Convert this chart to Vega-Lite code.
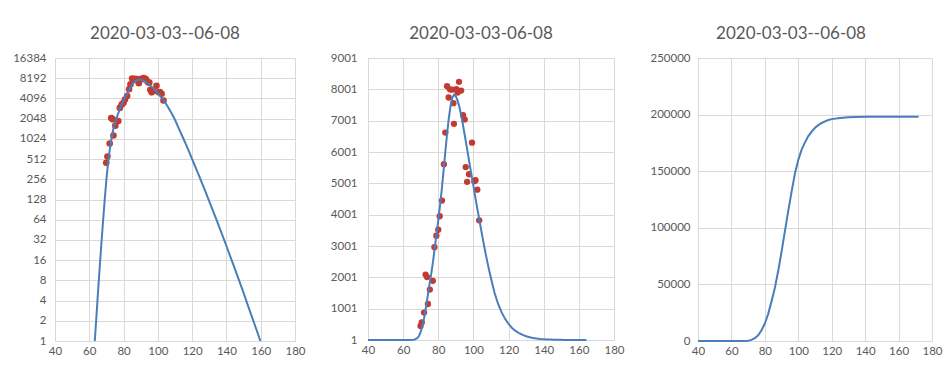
{
  "$schema": "https://vega.github.io/schema/vega-lite/v6.json",
  "padding": {"left": 12, "top": 25, "right": 0, "bottom": 0},
  "spacing": 24,
  "background": "white",
  "config": {
    "font": "Lato",
    "view": {"stroke": null},
    "axis": {"gridColor": "#d9d9d9", "domainColor": "#d9d9d9", "ticks": false, "tickSize": 0, "labelColor": "#595959", "labelFontSize": 11.5, "labelFont": "Lato", "labelOverlap": false, "labelFlush": false, "title": null},
    "title": {"fontSize": 17, "fontWeight": "normal", "color": "#595959", "font": "Lato"}
  },
  "datasets": {
    "pts": [{"x":69.9,"v":450},{"x":70.6,"v":560},{"x":71.9,"v":875},{"x":72.8,"v":2090},{"x":73.6,"v":2010},{"x":74.1,"v":1150},{"x":75.2,"v":1610},{"x":76.9,"v":1890},{"x":77.8,"v":2960},{"x":78.9,"v":3330},{"x":80.0,"v":3520},{"x":80.8,"v":3950},{"x":82.1,"v":4450},{"x":83.2,"v":5610},{"x":84.0,"v":6620},{"x":85.0,"v":8100},{"x":85.9,"v":7740},{"x":86.6,"v":8000},{"x":87.8,"v":7990},{"x":88.6,"v":7560},{"x":88.9,"v":6900},{"x":90.3,"v":8010},{"x":91.0,"v":7900},{"x":91.8,"v":8240},{"x":93.0,"v":7960},{"x":94.1,"v":7180},{"x":95.0,"v":7040},{"x":95.6,"v":5520},{"x":96.4,"v":5050},{"x":97.5,"v":5290},{"x":99.2,"v":6300},{"x":100.5,"v":5070},{"x":101.2,"v":5100},{"x":102.2,"v":4800},{"x":103.3,"v":3820}],
    "daily": [{"x":40,"v":1},{"x":50,"v":1},{"x":60,"v":1},{"x":63.2,"v":1},{"x":64,"v":2},{"x":65,"v":4.9},{"x":66,"v":11.7},{"x":67,"v":26.9},{"x":68,"v":59.7},{"x":69,"v":128},{"x":70,"v":256},{"x":71,"v":461},{"x":72,"v":724},{"x":73,"v":1045},{"x":74,"v":1418},{"x":75,"v":1783},{"x":76,"v":2120},{"x":77,"v":2500},{"x":78,"v":2950},{"x":79,"v":3380},{"x":80,"v":3820},{"x":81,"v":4300},{"x":82,"v":4820},{"x":83,"v":5400},{"x":84,"v":6000},{"x":85,"v":6580},{"x":86,"v":7080},{"x":87,"v":7480},{"x":88,"v":7740},{"x":89,"v":7830},{"x":90,"v":7780},{"x":91,"v":7640},{"x":92,"v":7440},{"x":93,"v":7180},{"x":94,"v":6880},{"x":95,"v":6560},{"x":96,"v":6230},{"x":97,"v":5900},{"x":98,"v":5560},{"x":99,"v":5230},{"x":100,"v":4920},{"x":101,"v":4580},{"x":102,"v":4260},{"x":103,"v":3950},{"x":104,"v":3640},{"x":105,"v":3330},{"x":106,"v":3030},{"x":107,"v":2740},{"x":108,"v":2470},{"x":109,"v":2210},{"x":110,"v":1970},{"x":112,"v":1510},{"x":114,"v":1160},{"x":116,"v":890},{"x":118,"v":676},{"x":120,"v":512},{"x":122,"v":385},{"x":124,"v":290},{"x":126,"v":217},{"x":128,"v":162},{"x":130,"v":120},{"x":132,"v":89},{"x":134,"v":66},{"x":136,"v":48.5},{"x":138,"v":35.5},{"x":140,"v":26},{"x":142,"v":18.9},{"x":144,"v":13.7},{"x":146,"v":10},{"x":148,"v":7.2},{"x":150,"v":5.2},{"x":152,"v":3.7},{"x":154,"v":2.64},{"x":156,"v":1.9},{"x":158,"v":1.36},{"x":159.8,"v":1},{"x":162,"v":0.7},{"x":164.3,"v":0.5}],
    "cum": [{"x":40,"c":0},{"x":60,"c":0},{"x":68,"c":100},{"x":70,"c":300},{"x":72,"c":1000},{"x":74,"c":2500},{"x":76,"c":5000},{"x":78,"c":9500},{"x":80,"c":15500},{"x":82,"c":24000},{"x":84,"c":35000},{"x":86,"c":47000},{"x":88,"c":62000},{"x":90,"c":79000},{"x":92,"c":97000},{"x":94,"c":115000},{"x":96,"c":132000},{"x":98,"c":148000},{"x":100,"c":160000},{"x":102,"c":169000},{"x":104,"c":175500},{"x":106,"c":181000},{"x":108,"c":185000},{"x":110,"c":188300},{"x":112,"c":190700},{"x":114,"c":192600},{"x":116,"c":194000},{"x":118,"c":195200},{"x":120,"c":196000},{"x":125,"c":197000},{"x":130,"c":197600},{"x":140,"c":198000},{"x":172,"c":198200}]
  },
  "hconcat": [
    {
      "width": 240, "height": 283,
      "title": {"text": "2020-03-03--06-08", "frame": "group", "dx": -10, "offset": 9},
      "encoding": {
        "x": {"field": "x", "type": "quantitative", "scale": {"domain": [40, 180], "nice": false}, "axis": {"values": [40,60,80,100,120,140,160,180], "labelPadding": 4, "labelOverlap": false, "labelFlush": false, "title": null}},
        "y": {"field": "v", "type": "quantitative", "scale": {"type": "log", "base": 2, "domain": [1, 16384], "nice": false}, "axis": {"values": [1,2,4,8,16,32,64,128,256,512,1024,2048,4096,8192,16384], "format": "d", "labelPadding": 9, "labelOverlap": false, "labelFlush": false, "title": null}}
      },
      "layer": [
        {
          "data": {"name": "pts"},
          "mark": {"type": "circle", "size": 44, "opacity": 1, "color": "#c23b30"}
        },
        {
          "data": {"name": "daily"},
          "transform": [{"filter": "datum.x >= 63 && datum.x <= 160"}],
          "mark": {"type": "line", "color": "#4a7ebb", "strokeWidth": 2, "clip": true}
        }
      ]
    },
    {
      "width": 246, "height": 282,
      "title": {"text": "2020-03-03-06-08", "frame": "group", "dx": -10, "offset": 9},
      "encoding": {
        "x": {"field": "x", "type": "quantitative", "scale": {"domain": [40, 180], "nice": false}, "axis": {"values": [40,60,80,100,120,140,160,180], "labelPadding": 4, "labelOverlap": false, "labelFlush": false, "title": null}},
        "y": {"field": "v", "type": "quantitative", "scale": {"domain": [1, 9001], "nice": false, "zero": false}, "axis": {"values": [1,1001,2001,3001,4001,5001,6001,7001,8001,9001], "format": "d", "labelPadding": 11, "labelOverlap": false, "labelFlush": false, "title": null}}
      },
      "layer": [
        {
          "data": {"name": "pts"},
          "mark": {"type": "circle", "size": 40, "opacity": 1, "color": "#c23b30"}
        },
        {
          "data": {"name": "daily"},
          "mark": {"type": "line", "color": "#4a7ebb", "strokeWidth": 2}
        }
      ]
    },
    {
      "width": 234, "height": 283,
      "title": {"text": "2020-03-03--06-08", "frame": "group", "dx": -24, "offset": 9},
      "data": {"name": "cum"},
      "mark": {"type": "line", "color": "#4a7ebb", "strokeWidth": 2},
      "encoding": {
        "x": {"field": "x", "type": "quantitative", "scale": {"domain": [40, 180], "nice": false}, "axis": {"values": [40,60,80,100,120,140,160,180], "labelPadding": 4, "labelOverlap": false, "labelFlush": false, "title": null}},
        "y": {"field": "c", "type": "quantitative", "scale": {"domain": [0, 250000], "nice": false}, "axis": {"values": [0,50000,100000,150000,200000,250000], "format": "d", "labelPadding": 8, "labelOverlap": false, "labelFlush": false, "title": null}}
      }
    }
  ]
}
